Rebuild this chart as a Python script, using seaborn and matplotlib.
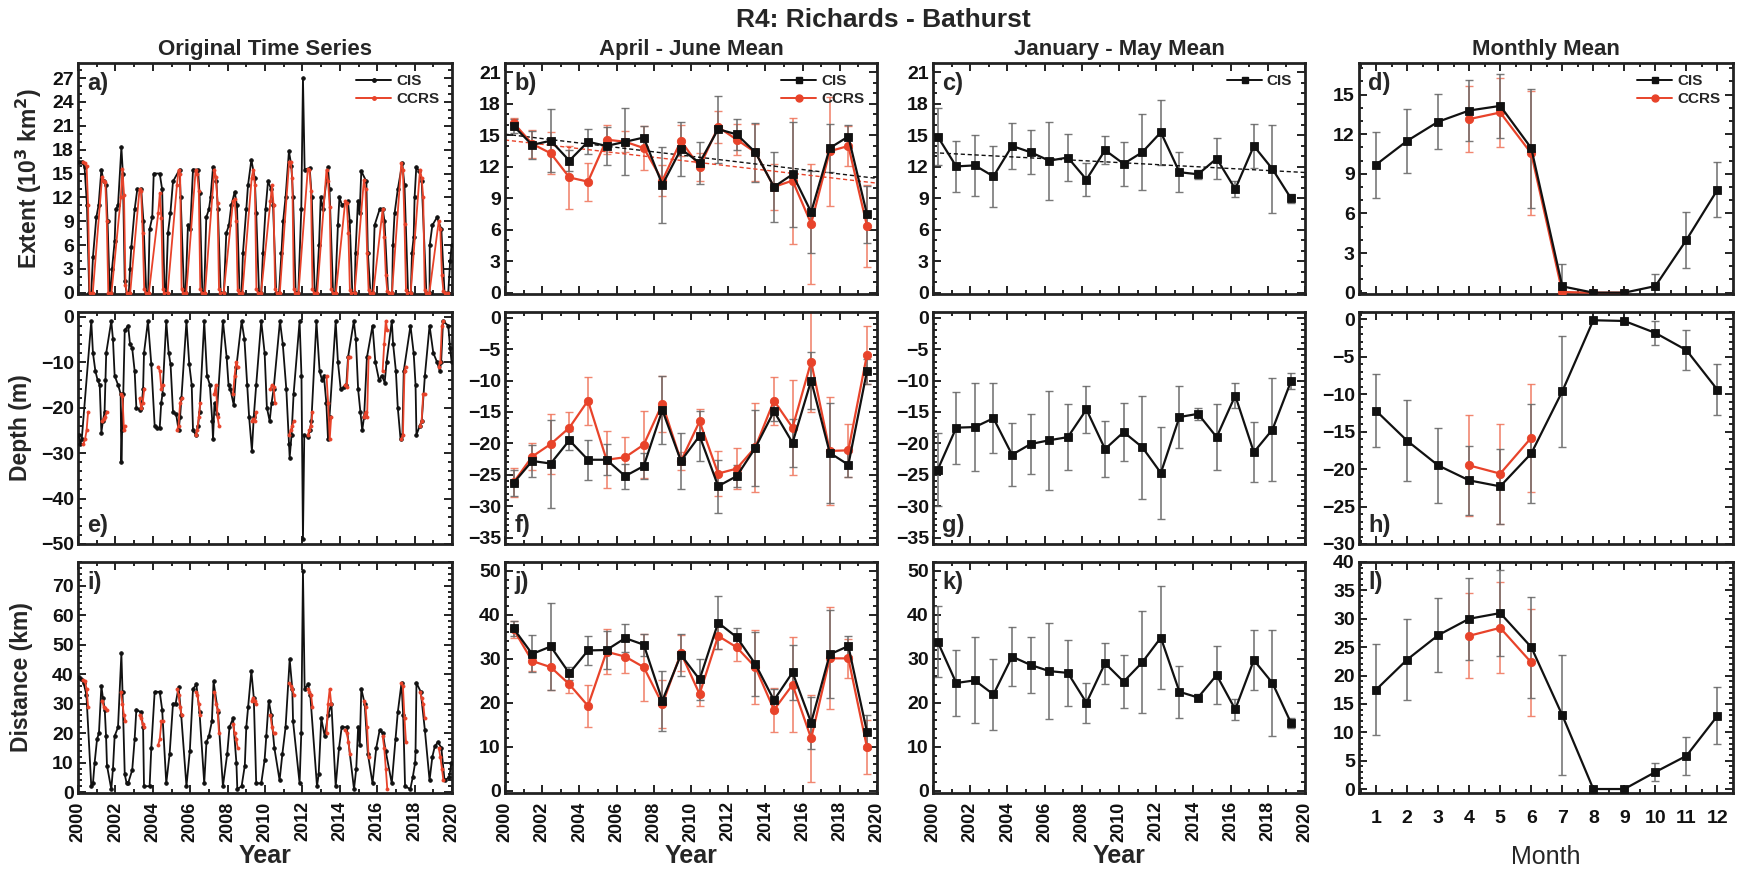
import numpy as np
import pandas as pd
import matplotlib
matplotlib.use("Agg")
import matplotlib.pyplot as plt
from matplotlib.ticker import MultipleLocator
from matplotlib.lines import Line2D
import seaborn as sns

# ---------------------------------------------------------------- data
years = list(range(2000, 2020))
months = list(range(1, 13))

# Original time series: CIS extent (10^3 km^2)
ext_cis_t = [2000.04, 2000.2, 2000.35, 2000.48, 2000.6, 2000.71,
             2000.8, 2000.98, 2001.1, 2001.25, 2001.37, 2001.5, 2001.58, 2001.7,
             2001.75, 2001.82, 2001.96, 2002.02, 2002.14, 2002.32, 2002.4, 2002.5, 2002.6,
             2002.72, 2002.78, 2002.85, 2003.03, 2003.17, 2003.38, 2003.5, 2003.65,
             2003.75, 2003.83, 2003.97, 2004.05, 2004.37, 2004.5, 2004.63,
             2004.7, 2004.81, 2004.94, 2005.08, 2005.43, 2005.49, 2005.67,
             2005.75, 2005.88, 2006.0, 2006.15, 2006.42, 2006.5, 2006.65,
             2006.75, 2006.86, 2007.0, 2007.09, 2007.22, 2007.4, 2007.48, 2007.63,
             2007.8, 2007.93, 2008.07, 2008.2, 2008.38, 2008.5, 2008.64,
             2008.75, 2008.82, 2009.0, 2009.09, 2009.27, 2009.45, 2009.53, 2009.68,
             2009.8, 2009.89, 2010.03, 2010.16, 2010.34, 2010.43, 2010.6,
             2010.75, 2010.88, 2010.97, 2011.1, 2011.28, 2011.41, 2011.5, 2011.64,
             2011.78, 2011.94, 2012.03, 2012.12, 2012.39, 2012.5, 2012.66,
             2012.75, 2012.89, 2012.98, 2013.1, 2013.37, 2013.45, 2013.64,
             2013.75, 2013.9, 2013.98, 2014.12, 2014.44, 2014.53, 2014.67,
             2014.8, 2014.84, 2014.97, 2015.06, 2015.15, 2015.42, 2015.5, 2015.64,
             2015.75, 2015.86, 2016.13, 2016.3, 2016.39, 2016.58,
             2016.8, 2016.84, 2016.93, 2017.1, 2017.34, 2017.46, 2017.65,
             2017.8, 2017.86, 2017.95, 2018.0, 2018.09, 2018.25, 2018.38, 2018.63,
             2018.8, 2018.81, 2018.95, 2019.2, 2019.43, 2019.6,
             2019.8, 2019.9, 2019.98]
ext_cis_v = [16.5, 16.5, 15.8, 11.0, 0, 0,
             4.5, 9.5, 11, 15.5, 14.0, 13.5, 9, 0,
             0, 3, 6.5, 10.5, 11, 18.3, 15, 1.5, 0,
             0, 3, 5.7, 10.5, 13, 13, 9, 0,
             0, 8, 9.5, 15, 15, 13, 0,
             0, 7.5, 10, 14, 15.5, 12, 0,
             0, 8.5, 8, 15.5, 15.5, 12.5, 0,
             0, 9.5, 10.5, 12, 15.8, 14, 10.5, 0,
             0, 7.5, 8.5, 11, 12.7, 11, 0,
             0, 5, 10.5, 13.5, 16.7, 14.5, 10, 0,
             0, 5, 10.5, 14, 13, 11, 0,
             0, 5, 9, 12, 17.8, 16, 12, 0,
             0, 10.5, 27, 15.5, 15.7, 12, 0,
             0, 6, 12, 10.5, 15.8, 13, 0,
             0, 8.5, 12, 11, 11.5, 9, 0,
             0, 5, 11.5, 10, 15.3, 14, 5, 0,
             0, 8.5, 10.5, 10.5, 9, 0,
             0, 6, 10, 13, 16.3, 13.5, 0,
             0, 5, 7, 12, 15.8, 15.3, 14, 0,
             0, 6, 8.5, 9.5, 8, 0,
             0, 4, 6]

# CCRS extent: Apr, May, Jun, Jul, Aug, Oct of each year
ext_ccrs = [[16.4, 16.3, 15.9, 11.0, 0, 0], [14.6, 14.0, 13.9, 9.0, 0, 0],
            [12.0, 15.6, 12.3, 1.0, 0, 0], [13.0, 12.8, 7.5, 0.5, 0, 0],
            [10.0, 12.5, 9.4, 0.5, 0, 0], [13.5, 15.4, 15.0, 0.5, 0, 0],
            [15.4, 15.0, 12.8, 0.5, 0, 0], [15.5, 14.6, 11.3, 0.5, 0, 0],
            [11.5, 11.8, 9.0, 0.3, 0, 0], [14.5, 15.5, 13.5, 0.5, 0, 0],
            [11.5, 13.5, 11.0, 0.5, 0, 0], [16.5, 16.5, 14.5, 0.5, 0, 0],
            [15.6, 15.5, 12.8, 0.5, 0, 0], [15.5, 14.0, 10.8, 0.5, 0, 0],
            [11.5, 11.3, 7.5, 0.3, 0, 0], [14.2, 13.0, 5.0, 0.3, 0, 0],
            [10.5, 7.0, 2.3, 0.2, 0, 0], [16.3, 15.5, 8.7, 0.3, 0, 0],
            [15.5, 14.5, 12.0, 0.3, 0, 0], [9.0, 8.0, 2.2, 0.2, 0, 0]]

# Original time series: CIS depth (m)
dep_cis_t = [2000.04, 2000.12, 2000.2,
             2000.71, 2000.8, 2000.93, 2001.05, 2001.16, 2001.25, 2001.33, 2001.42, 2001.47, 2001.51,
             2001.78, 2001.87, 2001.96, 2002.14, 2002.28, 2002.32, 2002.36, 2002.42, 2002.5,
             2002.68, 2002.78, 2002.9, 2003.03, 2003.12, 2003.3, 2003.39, 2003.48, 2003.53,
             2003.74, 2003.92, 2004.1, 2004.2, 2004.37, 2004.45, 2004.52,
             2004.72, 2004.85, 2004.95, 2005.08, 2005.25, 2005.38, 2005.46, 2005.53,
             2005.8, 2005.95, 2006.08, 2006.15, 2006.3, 2006.42, 2006.5,
             2006.75, 2006.9, 2007.05, 2007.18, 2007.22, 2007.3, 2007.42,
             2007.75, 2007.95, 2008.05, 2008.15, 2008.33, 2008.47,
             2008.75, 2008.9, 2009.05, 2009.15, 2009.3, 2009.4, 2009.53,
             2009.8, 2009.98, 2010.1, 2010.25, 2010.35, 2010.46,
             2010.8, 2010.95, 2011.14, 2011.28, 2011.32, 2011.42, 2011.53,
             2011.85, 2011.95, 2012.03, 2012.1, 2012.3, 2012.4, 2012.48,
             2012.75, 2012.92, 2013.05, 2013.15, 2013.28, 2013.37, 2013.45,
             2013.78, 2013.9, 2014.05, 2014.25, 2014.35, 2014.44,
             2014.75, 2014.86, 2014.98, 2015.1, 2015.2, 2015.3, 2015.45,
             2015.75, 2015.9, 2016.1, 2016.25, 2016.4, 2016.5,
             2016.78, 2016.85, 2017.0, 2017.1, 2017.25, 2017.35, 2017.42,
             2017.78, 2017.95, 2018.05, 2018.1, 2018.28, 2018.38, 2018.55,
             2018.8, 2019.0, 2019.2, 2019.35, 2019.42, 2019.52,
             2019.8, 2019.9, 2019.98]
dep_cis_v = [-26, -28, -27,
             -1, -8, -12, -14, -15, -25.5, -23, -21, -14, -8,
             -1, -5, -13, -15, -17, -32, -25, -17, -3,
             -2, -6, -7, -12, -20, -20.5, -20, -16, -8,
             -1, -10.5, -24, -24.5, -24.5, -19, -17,
             -1, -8, -10.5, -21, -21.5, -25, -22, -18,
             -1, -10.5, -15, -25, -26, -24, -21,
             -1, -13, -15, -23, -27, -19, -21.5,
             -1, -9, -15, -16, -19.5, -11,
             -1, -5, -15, -22, -29.5, -22, -15,
             -1, -8, -20, -23, -19, -16,
             -1, -6, -16, -28, -31, -26, -17,
             -1, -13, -49, -26, -26.5, -25, -23,
             -1, -12, -14, -13, -19, -27, -22,
             -1, -10, -16, -15.5, -15, -9,
             -1, -5, -16, -21, -25, -22, -9,
             -2, -10, -14, -13, -14.5, -10,
             -1, -6, -12, -20, -27, -26, -12,
             -2, -8, -15, -26, -24, -23, -13,
             -2, -8, -10, -12, -10, -1,
             -2, -7, -10]

# CCRS depth: Apr, May, Jun, Jul of each year
dep_ccrs = [[-28, -27, -25, -21], [-23, -22.5, -22, -21], [-17, -17.5, -25, -24],
            [-18, -20, -19, -16], [-11, -12, -16, -15], [-25, -24, -19, -18],
            [-26, -25, -22, -19], [-17, -15, -22, -24], [-17, -13, -10, -11],
            [-23, -22.5, -23, -21], [-16, -15, -15.5, -19], [-26, -25, -24, -23],
            [-26, -25, -24, -21], [-13, -19, -27, -22], [-15, -15.5, -9, -9],
            [-22, -21, -22, -9], [-12, -6, -1, -3], [-27, -26, -12, -11],
            [-24, -23, -17, -17], [-11, -10, -2, -1]]

# Original time series: CIS distance (km)
dis_cis_t = [2000.04, 2000.15, 2000.3, 2000.45,
             2000.71, 2000.8, 2000.89, 2001.02, 2001.12, 2001.25, 2001.33, 2001.43, 2001.5, 2001.55,
             2001.78, 2001.87, 2001.96, 2002.14, 2002.32, 2002.38, 2002.5, 2002.6,
             2002.68, 2002.9, 2003.03, 2003.12, 2003.38, 2003.48, 2003.53,
             2003.83, 2003.92, 2004.1, 2004.37, 2004.5,
             2004.72, 2004.9, 2005.08, 2005.22, 2005.38, 2005.52,
             2005.8, 2005.98, 2006.15, 2006.33, 2006.5,
             2006.75, 2006.87, 2007.0, 2007.16, 2007.25, 2007.49,
             2007.75, 2007.98, 2008.1, 2008.29, 2008.47, 2008.52,
             2008.75, 2008.92, 2009.0, 2009.1, 2009.27, 2009.4, 2009.53,
             2009.8, 2009.98, 2010.07, 2010.2, 2010.34, 2010.5,
             2010.78, 2010.93, 2011.1, 2011.32, 2011.46, 2011.5,
             2011.85, 2011.94, 2012.03, 2012.12, 2012.3, 2012.42,
             2012.78, 2012.87, 2013.01, 2013.19, 2013.37, 2013.55,
             2013.78, 2013.96, 2014.1, 2014.37,
             2014.76, 2014.88, 2014.98, 2015.07, 2015.15, 2015.33, 2015.5,
             2015.75, 2015.95, 2016.13, 2016.3, 2016.45,
             2016.78, 2016.98, 2017.1, 2017.3, 2017.39, 2017.49,
             2017.77, 2017.9, 2018.03, 2018.05, 2018.1, 2018.33, 2018.55,
             2018.8, 2018.95, 2019.08, 2019.25, 2019.43, 2019.6,
             2019.85, 2019.97]
dis_cis_v = [39, 38.5, 37, 33,
             2, 3, 10, 18, 20, 36, 32, 28, 19, 9,
             1, 8, 19, 22, 47, 34, 6, 3,
             3, 7.5, 18, 28, 27, 22, 2,
             2, 15, 34, 34, 28,
             3, 13, 30, 30, 35.5, 26,
             2, 14, 35, 36.5, 27,
             3, 17, 19, 24, 37.5, 27,
             2, 13, 22, 25, 10, 1,
             2, 9, 22, 29, 41, 32, 3,
             3, 11, 19, 31, 26, 15,
             4, 13, 22, 45, 35, 24,
             3, 20, 75, 35, 36.5, 33,
             2, 6, 25, 19, 26, 30,
             2, 15, 22, 22,
             1, 8, 22, 16, 35, 30, 13,
             3, 15, 21, 20, 14,
             3, 18, 27, 37, 26, 2,
             1, 5, 10, 14, 37, 34, 21,
             4, 12, 15.5, 17, 15, 4,
             5, 10]

# CCRS distance: Apr, May, Jun, Jul of each year
dis_ccrs = [[38, 37.5, 35, 29], [31, 29, 28.5, 28], [34, 30, 26, 24], [26, 25, 23, 22],
            [16, 18, 24, 24], [35, 33, 29, 26], [34, 33, 30, 26], [34, 30, 28, 20],
            [23, 20, 18, 15], [31, 32, 31, 30], [26, 22, 20, 20], [37, 36, 35, 33],
            [35, 34, 33, 29], [20, 30, 35, 30], [21, 20, 17, 13], [31, 29, 22, 12],
            [19, 15, 8, 1], [37, 36, 25, 17], [34, 32, 30, 25], [15, 12, 8, 4]]

# April - June mean
amj_ext_cis = [15.9, 14.1, 14.5, 12.6, 14.4, 14.0, 14.4, 14.8, 10.3, 13.7,
               12.4, 15.6, 15.1, 13.4, 10.1, 11.3, 7.7, 13.8, 14.9, 7.5]
amj_ext_cis_sd = [0.7, 1.3, 3.0, 1.0, 1.2, 1.8, 3.2, 1.1, 3.6, 2.6,
                  2.0, 3.2, 1.5, 2.8, 3.3, 5.0, 3.9, 2.3, 1.1, 2.7]
amj_ext_ccrs = [16.2, 14.2, 13.3, 11.0, 10.6, 14.6, 14.4, 13.8, 10.7, 14.5,
                12.0, 15.8, 14.6, 13.4, 10.1, 10.7, 6.6, 13.5, 14.0, 6.4]
amj_ext_ccrs_sd = [0.5, 1.3, 2.0, 3.0, 1.8, 1.4, 1.0, 2.1, 1.5, 1.5,
                   1.3, 1.5, 1.5, 2.7, 2.2, 6.0, 5.7, 5.2, 1.9, 3.9]
amj_dep_cis = [-26.3, -22.8, -23.2, -19.5, -22.6, -22.6, -25.2, -23.6, -14.7, -22.8,
               -18.8, -26.8, -25.2, -20.7, -14.9, -19.9, -10.0, -21.5, -23.4, -8.5]
amj_dep_cis_sd = [2.0, 2.5, 7.0, 1.5, 3.2, 2.5, 2.0, 2.0, 5.4, 4.4,
                  4.0, 4.2, 1.8, 6.0, 1.5, 3.8, 4.6, 7.9, 2.0, 2.0]
amj_dep_ccrs = [-26.2, -22.1, -20.1, -17.5, -13.2, -22.6, -22.2, -20.2, -13.7, -22.8,
                -16.5, -24.8, -24.0, -20.6, -13.2, -17.5, -7.0, -21.2, -21.1, -5.9]
amj_dep_ccrs_sd = [2.3, 2.2, 4.8, 2.5, 3.8, 4.5, 3.2, 5.3, 4.5, 1.5,
                   2.0, 3.6, 3.3, 7.1, 3.8, 7.6, 8.0, 8.6, 4.2, 4.6]
amj_dis_cis = [36.9, 31.1, 32.8, 26.7, 31.9, 32.0, 34.7, 33.2, 20.5, 30.9,
               25.3, 38.2, 34.9, 28.8, 20.6, 26.9, 15.5, 31.0, 32.9, 13.4]
amj_dis_cis_sd = [1.8, 4.2, 9.8, 1.5, 3.3, 4.4, 3.2, 2.5, 6.8, 4.7,
                  4.6, 6.0, 2.0, 7.3, 2.5, 6.3, 5.9, 10.0, 2.3, 3.8]
amj_dis_ccrs = [36.7, 29.5, 28.1, 24.2, 19.3, 31.6, 30.5, 28.1, 19.7, 31.3,
                22.0, 35.2, 32.6, 28.1, 18.4, 24.1, 11.9, 30.1, 30.1, 9.9]
amj_dis_ccrs_sd = [2.0, 2.2, 5.1, 2.0, 4.8, 5.1, 3.8, 7.6, 5.5, 4.0,
                   2.7, 3.0, 3.0, 8.4, 5.0, 10.8, 9.8, 11.6, 4.5, 6.1]

# January - May mean (CIS)
jfm_ext = [14.9, 12.05, 12.15, 11.1, 14.0, 13.4, 12.6, 12.9, 10.8, 13.6,
           12.3, 13.4, 15.3, 11.5, 11.3, 12.8, 9.9, 14.0, 11.8, 9.0]
jfm_ext_sd = [2.7, 2.4, 2.9, 2.9, 2.15, 2.1, 3.7, 2.2, 1.6, 1.35,
              2.1, 3.6, 3.1, 1.9, 0.4, 1.95, 0.75, 2.1, 4.2, 0.4]
jfm_dep = [-24.2, -17.5, -17.4, -16.0, -21.8, -20.1, -19.5, -19.0, -14.6, -20.9,
           -18.2, -20.6, -24.7, -15.8, -15.3, -19.0, -12.4, -21.4, -17.8, -10.1]
jfm_dep_sd = [5.8, 5.7, 7.0, 5.6, 5.0, 4.8, 7.9, 5.3, 3.8, 4.5,
              4.6, 8.2, 7.3, 4.9, 1.0, 5.3, 2.0, 4.8, 8.2, 1.3]
jfm_dis = [33.9, 24.5, 25.1, 21.9, 30.5, 28.6, 27.2, 26.8, 20.0, 29.0,
           24.8, 29.2, 34.8, 22.5, 21.2, 26.3, 18.5, 29.7, 24.5, 15.4]
jfm_dis_sd = [8.0, 7.5, 9.8, 8.1, 6.7, 6.3, 10.9, 7.5, 4.6, 4.7,
              6.0, 11.6, 11.7, 5.9, 0.8, 6.6, 2.3, 6.9, 12.0, 1.2]

# Monthly mean
mon_ext_cis = [9.7, 11.5, 12.95, 13.8, 14.15, 10.95, 0.48, 0.0, 0.0, 0.5, 4.0, 7.8]
mon_ext_cis_sd = [2.5, 2.4, 2.1, 2.3, 2.4, 4.5, 1.7, 0.1, 0.1, 0.95, 2.1, 2.1]
ccrs_months = [4, 5, 6, 7, 8, 9]
mon_ext_ccrs = [13.15, 13.65, 10.55, 0.05, 0.0, 0.0]
mon_ext_ccrs_sd = [2.5, 2.6, 4.7, 0.1, 0.05, 0.05]
mon_dep_cis = [-12.2, -16.2, -19.5, -21.5, -22.3, -17.9, -9.6, -0.1, -0.2, -1.8, -4.1, -9.4]
mon_dep_cis_sd = [4.9, 5.4, 5.0, 4.6, 5.0, 6.6, 7.4, 0.05, 0.1, 1.6, 2.7, 3.4]
ccrs_months_short = [4, 5, 6]
mon_dep_ccrs = [-19.5, -20.6, -15.8]
mon_dep_ccrs_sd = [6.7, 6.7, 7.2]
mon_dis_cis = [17.5, 22.8, 27.1, 30.0, 31.0, 25.0, 13.0, 0.0, 0.0, 3.0, 5.85, 12.9]
mon_dis_cis_sd = [8.0, 7.1, 6.5, 7.2, 7.6, 8.9, 10.6, 0.1, 0.1, 1.5, 3.4, 5.0]
mon_dis_ccrs = [27.0, 28.4, 22.3]
mon_dis_ccrs_sd = [7.5, 8.0, 9.4]

# ---------------------------------------------------------------- style
sns.set_theme(style="ticks")
plt.rcParams["font.family"] = ["Liberation Sans", "DejaVu Sans"]
plt.rcParams["font.weight"] = "bold"
plt.rcParams["axes.labelweight"] = "bold"
plt.rcParams["axes.titleweight"] = "bold"
plt.rcParams["mathtext.default"] = "bf"

BLACK = "#111111"
RED = "#e8432a"
EBLACK = "#6a6a6a"
ERED = "#f07a62"

W, H = 1742, 873
fig = plt.figure(figsize=(W / 100, H / 100), dpi=100)

cols = [(78, 452), (505, 877), (933, 1305), (1359, 1733)]
rows = [(63, 294), (312, 544), (562, 793)]
axes = [[None] * 4 for _ in range(3)]
for r, (t, b) in enumerate(rows):
    for c, (l, rr) in enumerate(cols):
        axes[r][c] = fig.add_axes([l / W, 1 - b / H, (rr - l) / W, (b - t) / H])


def sline(ax, x, y, color, marker, ms, lw, units=None, ls="-", z=3):
    df = pd.DataFrame({"x": x, "y": y})
    u = None
    if units is not None:
        df["u"] = units
        u = "u"
    sns.lineplot(data=df, x="x", y="y", units=u, estimator=None, sort=False,
                 color=color, marker=marker, markersize=ms, markeredgecolor=color,
                 markeredgewidth=0.6, linewidth=lw, linestyle=ls, ax=ax,
                 legend=False, zorder=z)


def ebars(ax, x, y, e, color):
    ax.errorbar(x, y, yerr=e, fmt="none", ecolor=color, elinewidth=1.2,
                capsize=3, capthick=1.0, zorder=2, alpha=0.9)


def segs(data, offsets):
    xs, ys, us = [], [], []
    for i, (yr, vals) in enumerate(zip(years, data)):
        for off, v in zip(offsets, vals):
            xs.append(yr + off)
            ys.append(v)
            us.append(i)
    return xs, ys, us


# ---------------------------------------------------------------- column 1
ax = axes[0][0]
xs, ys, _ = segs(ext_ccrs, [0.29, 0.375, 0.46, 0.54, 0.62, 0.79])
sline(ax, ext_cis_t, ext_cis_v, BLACK, "o", 2.6, 1.3, z=3)
sline(ax, xs, ys, RED, "o", 2.2, 1.3, z=4)

ax = axes[1][0]
sline(ax, dep_cis_t, dep_cis_v, BLACK, "o", 2.6, 1.3, z=3)
xs, ys, us = segs(dep_ccrs, [0.29, 0.375, 0.46, 0.54])
sline(ax, xs, ys, RED, "o", 2.2, 1.3, units=us, z=4)

ax = axes[2][0]
sline(ax, dis_cis_t, dis_cis_v, BLACK, "o", 2.6, 1.3, z=3)
xs, ys, us = segs(dis_ccrs, [0.29, 0.375, 0.46, 0.54])
sline(ax, xs, ys, RED, "o", 2.2, 1.3, units=us, z=4)

# ---------------------------------------------------------------- column 2
xa = [y + 0.46 for y in years]
xline = [2000, 2020]
for r, (cv, cs, rv, rs) in enumerate([
        (amj_ext_cis, amj_ext_cis_sd, amj_ext_ccrs, amj_ext_ccrs_sd),
        (amj_dep_cis, amj_dep_cis_sd, amj_dep_ccrs, amj_dep_ccrs_sd),
        (amj_dis_cis, amj_dis_cis_sd, amj_dis_ccrs, amj_dis_ccrs_sd)]):
    ax = axes[r][1]
    ebars(ax, xa, rv, rs, ERED)
    ebars(ax, xa, cv, cs, EBLACK)
    sline(ax, xa, cv, BLACK, "s", 5.5, 1.6, z=4)
    sline(ax, xa, rv, RED, "o", 6, 1.6, z=3)
    if r == 0:
        for v, col in [(cv, BLACK), (rv, RED)]:
            k, b0 = np.polyfit(xa, v, 1)
            sline(ax, xline, [k * xline[0] + b0, k * xline[1] + b0], col, None, 0,
                  1.0, ls=(0, (3, 2)), z=2)

# ---------------------------------------------------------------- column 3
xj = [y + 0.25 for y in years]
for r, (v, s) in enumerate([(jfm_ext, jfm_ext_sd), (jfm_dep, jfm_dep_sd),
                            (jfm_dis, jfm_dis_sd)]):
    ax = axes[r][2]
    ebars(ax, xj, v, s, EBLACK)
    sline(ax, xj, v, BLACK, "s", 5.5, 1.6, z=4)
    if r == 0:
        k, b0 = np.polyfit(xj, v, 1)
        sline(ax, xline, [k * xline[0] + b0, k * xline[1] + b0], BLACK, None, 0,
              1.0, ls=(0, (3, 2)), z=2)

# ---------------------------------------------------------------- column 4
mon_sets = [
    (mon_ext_cis, mon_ext_cis_sd, ccrs_months, mon_ext_ccrs, mon_ext_ccrs_sd),
    (mon_dep_cis, mon_dep_cis_sd, ccrs_months_short, mon_dep_ccrs, mon_dep_ccrs_sd),
    (mon_dis_cis, mon_dis_cis_sd, ccrs_months_short, mon_dis_ccrs, mon_dis_ccrs_sd),
]
for r, (cv, cs, rm, rv, rs) in enumerate(mon_sets):
    ax = axes[r][3]
    ebars(ax, rm, rv, rs, ERED)
    ebars(ax, months, cv, cs, EBLACK)
    sline(ax, rm, rv, RED, "o", 6, 1.6, z=3)
    sline(ax, months, cv, BLACK, "s", 5.5, 1.6, z=4)

# ---------------------------------------------------------------- axes formatting
ylims = [[(-0.15, 28.9), (-0.1, 21.9), (-0.1, 21.9), (-0.1, 17.4)],
         [(-50, 1), (-36, 0.9), (-36, 0.9), (-30, 1)],
         [(-0.3, 78), (-0.5, 52), (-0.5, 52), (-0.7, 40)]]
yticks = [[np.arange(0, 28, 3), np.arange(0, 22, 3), np.arange(0, 22, 3), np.arange(0, 16, 3)],
          [np.arange(-50, 1, 10), np.arange(-35, 1, 5), np.arange(-35, 1, 5), np.arange(-30, 1, 5)],
          [np.arange(0, 71, 10), np.arange(0, 51, 10), np.arange(0, 51, 10), np.arange(0, 41, 5)]]
yminor = [[1, 1, 1, 1], [2, 1, 1, 1], [2, 2, 2, 1]]
letters = [["a)", "b)", "c)", "d)"], ["e)", "f)", "g)", "h)"], ["i)", "j)", "k)", "l)"]]

for r in range(3):
    for c in range(4):
        ax = axes[r][c]
        ax.set_ylim(*ylims[r][c])
        ax.set_yticks(yticks[r][c])
        ax.yaxis.set_minor_locator(MultipleLocator(yminor[r][c]))
        if c < 3:
            ax.set_xlim(2000, 2020)
            ax.set_xticks(np.arange(2000, 2021, 2))
            ax.xaxis.set_minor_locator(MultipleLocator(1))
        else:
            ax.set_xlim(0.45, 12.5)
            ax.set_xticks(months)
            ax.xaxis.set_minor_locator(MultipleLocator(0.5))
        ax.tick_params(which="both", direction="in", top=True, right=True,
                       width=1.4, colors="#222222", labelcolor="#111111")
        ax.tick_params(which="major", length=6, labelsize=14, pad=3)
        ax.tick_params(which="minor", length=3)
        for sp in ax.spines.values():
            sp.set_linewidth(2.0)
            sp.set_color("#222222")
        ax.set_xlabel("")
        ax.set_ylabel("")
        if r < 2:
            ax.tick_params(labelbottom=False)
        else:
            if c < 3:
                ax.tick_params(axis="x", labelrotation=90, labelsize=13, pad=6)
                ax.set_xlabel("Year", fontsize=18, fontweight="bold", labelpad=2)
            else:
                ax.tick_params(axis="x", labelsize=14, pad=12)
                ax.set_xlabel("Month", fontsize=18, fontweight="normal", labelpad=13)
        for lab in ax.get_xticklabels() + ax.get_yticklabels():
            lab.set_fontweight("bold")
        if r == 1:
            ax.text(0.025, 0.03, letters[r][c], transform=ax.transAxes,
                    fontsize=17, fontweight="bold", va="bottom", ha="left")
        else:
            ax.text(0.025, 0.96, letters[r][c], transform=ax.transAxes,
                    fontsize=17, fontweight="bold", va="top", ha="left")

axes[0][0].set_ylabel("Extent (10$^3$ km$^2$)", fontsize=16.5, fontweight="bold", labelpad=6)
axes[1][0].set_ylabel("Depth (m)", fontsize=16.5, fontweight="bold", labelpad=6)
axes[2][0].set_ylabel("Distance (km)", fontsize=16.5, fontweight="bold", labelpad=14)

titles = ["Original Time Series", "April - June Mean", "January - May Mean", "Monthly Mean"]
for c in range(4):
    axes[0][c].set_title(titles[c], fontsize=16, fontweight="bold", pad=6)

fig.text(0.507, 0.977, "R4: Richards - Bathurst", ha="center", va="center",
         fontsize=19, fontweight="bold")


# legends
def leg(ax, items, ms):
    handles = [Line2D([], [], color=col, marker=m, markersize=ms, markeredgecolor=col,
                      linewidth=1.4, label=lab) for lab, col, m in items]
    ax.legend(handles=handles, loc="upper right", bbox_to_anchor=(0.99, 0.99),
              frameon=False, handlelength=2.3, handletextpad=0.3,
              labelspacing=0.25, borderaxespad=0.2, prop={"weight": "bold", "size": 11})


leg(axes[0][0], [("CIS", BLACK, "o"), ("CCRS", RED, "o")], 2.5)
leg(axes[0][1], [("CIS", BLACK, "s"), ("CCRS", RED, "o")], 5)
leg(axes[0][2], [("CIS", BLACK, "s")], 5)
leg(axes[0][3], [("CIS", BLACK, "s"), ("CCRS", RED, "o")], 5)

fig.savefig("out.png", dpi=100)
